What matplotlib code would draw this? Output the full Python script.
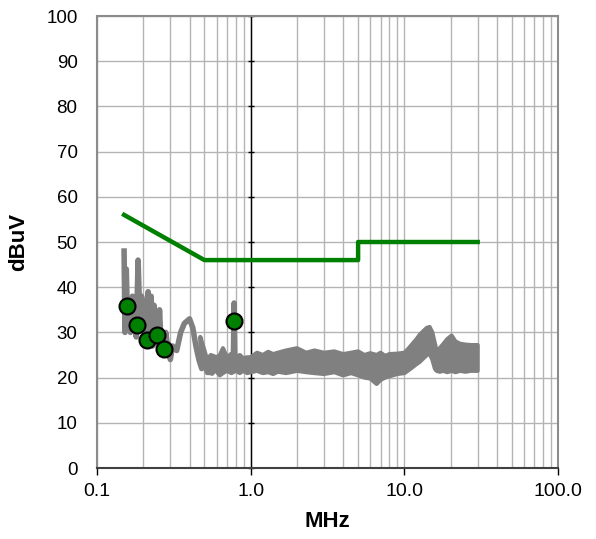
import matplotlib
matplotlib.use("Agg")
import matplotlib.pyplot as plt
from matplotlib.ticker import NullFormatter, LogLocator

plt.rcParams['font.family'] = ['Liberation Sans', 'DejaVu Sans']

# Limit line (MHz, dBuV)
limit_f = [0.15, 0.5, 5.0, 5.0, 30.0]
limit_v = [56, 46, 46, 50, 50]

# Measured peaks
peak_f = [0.157, 0.182, 0.211, 0.246, 0.273, 0.778]
peak_v = [35.8, 31.6, 28.3, 29.4, 26.3, 32.5]

# Spiky low-frequency part of the scan
scan_f = [0.150, 0.152, 0.155, 0.158, 0.162, 0.165, 0.170, 0.175, 0.180, 0.185,
          0.190, 0.195, 0.200, 0.205, 0.210, 0.215, 0.220, 0.225, 0.230, 0.235,
          0.240, 0.245, 0.250, 0.255, 0.260, 0.270, 0.280, 0.290, 0.300, 0.310,
          0.330, 0.350, 0.370, 0.400, 0.420, 0.440, 0.460, 0.480, 0.500, 0.560,
          0.600, 0.620, 0.650, 0.700, 0.740, 0.770, 0.780, 0.790, 0.820, 0.850,
          0.900, 0.950, 1.000]
scan_v = [48, 30, 44, 32, 36, 30, 38, 34, 29, 46,
          33, 38, 31, 37, 30, 39, 32, 38, 27, 36,
          30, 34, 27, 35, 29, 25, 30, 26, 24, 27,
          26, 30, 32, 33, 31, 27, 24, 22, 23, 21,
          24, 21, 23, 22, 25, 22, 36.5, 23, 22, 24,
          22, 23, 23]

# Dense band above 0.5 MHz (lower / upper envelope)
band_f = [0.47, 0.5, 0.52, 0.55, 0.6, 0.63, 0.66, 0.7, 0.75, 0.8, 0.85, 0.89,
          0.95, 1.0, 1.1, 1.2, 1.3, 1.4, 1.5, 1.7, 2.0, 2.3, 2.6, 3.0, 3.5, 4.0,
          4.5, 5.0, 5.5, 6.0, 6.6, 7.0, 7.5, 8.0, 9.0, 10.0, 10.5, 11.0, 12.0,
          12.6, 13.5, 14.0, 14.6, 15.2, 15.8, 16.2, 17.0, 18.0, 19.0, 20.3, 21.5,
          23.0, 25.0, 27.0, 30.0]
band_hi = [29, 26, 24, 25, 24.5, 25, 26.5, 24.5, 25, 24.5, 25, 24.3,
           24.5, 24.5, 25.5, 25, 25.7, 25.2, 25.5, 26, 26.5, 25.5, 26, 25.5, 25.8, 25.2,
           25.5, 25.8, 25, 25.4, 25, 25.5, 24.8, 25.2, 25.3, 25.5, 26.2, 27, 28.5,
           29.5, 30.5, 31, 31.2, 30, 27.5, 26, 26.5, 27.5, 28.5, 29.3, 28,
           27.5, 27.3, 27.2, 27.2]
band_lo = [27, 22.5, 21, 21, 21.5, 20.5, 21, 21.5, 21, 21.5, 21, 21.5,
           21, 21.2, 21.5, 21, 21.2, 20.8, 21.3, 21, 21.5, 21.2, 21, 20.8, 21.2, 20.5,
           21, 20.5, 20, 19.8, 18.6, 19.5, 20, 20.3, 20.8, 21, 21.5, 22, 23,
           23.5, 24.5, 25, 25.3, 24, 22, 21.5, 21.3, 21.5, 21.2, 21.5, 21.2,
           21.5, 21.3, 21.5, 21.5]

y_ticks = list(range(0, 101, 10))
x_ticks = [0.1, 1.0, 10.0, 100.0]
x_labels = ["0.1", "1.0", "10.0", "100.0"]

fig = plt.figure(figsize=(5.96, 5.39), dpi=100)
ax = fig.add_axes([0.1628, 0.1317, 0.7735, 0.8386])

ax.set_xscale('log')
ax.set_xlim(0.1, 100)
ax.set_ylim(0, 100)

# grid
ax.xaxis.set_minor_locator(LogLocator(base=10, subs=range(2, 10)))
ax.xaxis.set_minor_formatter(NullFormatter())
ax.grid(True, which='both', axis='x', color='#b4b4b4', lw=1)
ax.grid(True, which='major', axis='y', color='#b4b4b4', lw=1)
ax.set_axisbelow(True)

# vertical value axis crossing at 1 MHz
ax.axvline(1.0, color='black', lw=1, zorder=1.5)
ax.plot([1.0] * len(y_ticks), y_ticks, ls='none', marker='_', ms=5,
        mew=1, color='black', zorder=1.5, clip_on=False)

# scan: band as one closed outline, plus the spiky low-frequency trace
poly_f = band_f + band_f[::-1]
poly_v = band_hi + band_lo[::-1]
ax.fill(poly_f, poly_v, facecolor='#808080', edgecolor='#808080', lw=3,
        joinstyle='round', zorder=2)
ax.plot(scan_f, scan_v, color='#808080', lw=4, zorder=2.1, solid_joinstyle='round')

# limit + peaks
ax.plot(limit_f, limit_v, color='#008000', lw=3.2, zorder=3)
ax.plot(peak_f, peak_v, ls='none', marker='o', ms=11.5, mfc='#008000',
        mec='black', mew=1.5, zorder=4)

ax.set_xticks(x_ticks)
ax.set_xticklabels(x_labels)
ax.set_yticks(y_ticks)
ax.tick_params(axis='x', which='major', length=5, width=1, direction='out',
               labelsize=14, pad=6)
ax.tick_params(axis='x', which='minor', length=0)
ax.tick_params(axis='y', length=0, labelsize=13.5, pad=14)

for side in ['left', 'top', 'right']:
    ax.spines[side].set_color('#8c8c8c')
    ax.spines[side].set_linewidth(1.5)
ax.spines['bottom'].set_color('#404040')
ax.spines['bottom'].set_linewidth(1.5)

ax.set_xlabel('MHz', fontsize=16, fontweight='bold', labelpad=8)
ax.set_ylabel('dBuV', fontsize=16, fontweight='bold', labelpad=12)

fig.savefig('out.png', dpi=100)
